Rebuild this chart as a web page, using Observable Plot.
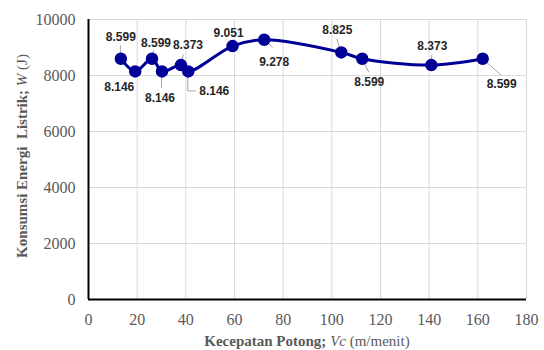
<!DOCTYPE html>
<html>
<head>
<meta charset="utf-8">
<script src="https://cdn.jsdelivr.net/npm/d3@7"></script>
<script src="https://cdn.jsdelivr.net/npm/@observablehq/plot@0.6"></script>
<style>
  html, body { margin: 0; padding: 0; background: #fff; }
  #chart { width: 544px; height: 350px; }
</style>
</head>
<body>
<div id="chart"></div>
<script>
// Data
const vc = [13.3, 19.2, 26.1, 30.2, 38.0, 41.0, 59.2, 72.2, 103.9, 112.5, 140.9, 162.0];
const energy = [8599, 8146, 8599, 8146, 8373, 8146, 9051, 9278, 8825, 8599, 8373, 8599];
const pointLabels = ["8.599", "8.146", "8.599", "8.146", "8.373", "8.146", "9.051", "9.278", "8.825", "8.599", "8.373", "8.599"];
const xTicks = [0, 20, 40, 60, 80, 100, 120, 140, 160, 180];
const yTicks = [0, 2000, 4000, 6000, 8000, 10000];

// Label placement (pixel offsets from each point) and leader lines
const labelOffsets = [[0,-22],[-16,16],[4,-16],[-2,27],[7,-20],[26,20],[-4,-13],[10,22],[-4,-22],[7,23],[1,-19],[19,25]];
const leaderPaths = [[[0,-13]],[],[[2,-8]],[[0,17]],[[3,-10]],[[0,20],[8,20]],[],[[9,8]],[[-4,-13]],[[7,14]],[[1,-10]],[[19,17]]];

const data = vc.map((x, i) => ({x, y: energy[i], label: pointLabels[i], i}));
const lineColor = "#000096";
const serif = "Liberation Serif";
const sans = "Liberation Sans";

const leaders = (index, scales) => {
  const g = d3.create("svg:g").attr("stroke", "#a6a6a6").attr("stroke-width", 1).attr("fill", "none");
  data.forEach((d, i) => {
    const segs = leaderPaths[i];
    if (!segs.length) return;
    const px = scales.x(d.x), py = scales.y(d.y);
    let p = `M${px},${py}`;
    segs.forEach(([dx, dy]) => { p += `L${px + dx},${py + dy}`; });
    g.append("path").attr("d", p);
  });
  return g.node();
};

const labelMarks = data.map((d, i) => Plot.text([d], {
  x: "x", y: "y", text: "label",
  dx: labelOffsets[i][0], dy: labelOffsets[i][1],
  fontSize: 12, fontWeight: "bold", fill: "#262626"
}));

const chart = Plot.plot({
  width: 544,
  height: 350,
  marginLeft: 88,
  marginRight: 18,
  marginTop: 19,
  marginBottom: 51,
  x: { domain: [0, 180], label: null },
  y: { domain: [0, 10000], label: null },
  marks: [
    Plot.gridX(xTicks, { stroke: "#d9d9d9", strokeOpacity: 1, strokeWidth: 1 }),
    Plot.gridY(yTicks, { stroke: "#d9d9d9", strokeOpacity: 1, strokeWidth: 1 }),
    Plot.axisX({ ticks: xTicks, tickSize: 0, tickPadding: 14, fontSize: 16, fill: "#595959", tickFormat: d3.format("d"), label: null }),
    Plot.axisY({ ticks: yTicks, tickSize: 0, tickPadding: 13, fontSize: 16, fill: "#595959", tickFormat: d3.format("d"), label: null }),
    Plot.ruleX([0], { stroke: "#000", strokeWidth: 2 }),
    Plot.ruleY([0], { stroke: "#000", strokeWidth: 2 }),
    leaders,
    Plot.line(data, { x: "x", y: "y", curve: "catmull-rom", stroke: lineColor, strokeWidth: 3 }),
    Plot.dot(data, { x: "x", y: "y", r: 5.5, fill: lineColor, stroke: lineColor }),
    ...labelMarks
  ]
});

const svg = d3.select(chart);
svg.attr("font-family", serif).style("background", "#fff").style("overflow", "visible");

// Axis titles with mixed styles
const xt = svg.append("text")
  .attr("x", 88 + 438 / 2).attr("y", 346)
  .attr("text-anchor", "middle")
  .attr("font-size", 15).attr("fill", "#595959");
xt.append("tspan").attr("font-weight", "bold").text("Kecepatan Potong; ");
xt.append("tspan").attr("font-style", "italic").text("Vc");
xt.append("tspan").text(" (m/menit)");

const yt = svg.append("text")
  .attr("transform", `translate(24,156) rotate(-90)`)
  .attr("text-anchor", "middle")
  .attr("dominant-baseline", "middle")
  .attr("font-size", 15).attr("fill", "#595959");
yt.append("tspan").attr("font-weight", "bold").text("Konsumsi Energi\u00a0 Listrik; ");
yt.append("tspan").attr("font-style", "italic").text("W");
yt.append("tspan").text(" (J)");

// force fonts on every text element
svg.selectAll("text, tspan").each(function() {
  this.style.setProperty("font-family", serif, "important");
});
svg.selectAll('g[aria-label="text"] text').each(function() {
  this.style.setProperty("font-family", sans, "important");
});

document.getElementById("chart").appendChild(chart);
</script>
</body>
</html>
